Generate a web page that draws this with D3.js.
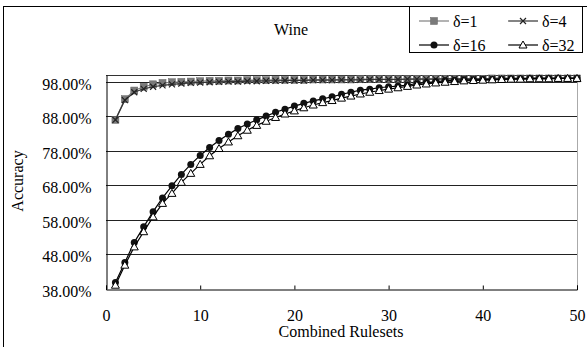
<!DOCTYPE html>
<html><head><meta charset="utf-8">
<script src="https://cdn.jsdelivr.net/npm/d3@7"></script>
<style>body{margin:0;background:#fff}</style>
</head><body><svg id="c" width="587" height="347"></svg>
<script>
const rulesets = d3.range(1, 51);
const seriesNames = ["δ=1", "δ=4", "δ=16", "δ=32"];
const delta1 = [0.870,0.930,0.955,0.966,0.973,0.977,0.979,0.980,0.981,0.982,
0.983,0.983,0.984,0.984,0.985,0.985,0.985,0.986,0.986,0.986,
0.986,0.987,0.987,0.987,0.987,0.987,0.988,0.988,0.988,0.988,
0.988,0.988,0.989,0.989,0.989,0.989,0.989,0.989,0.989,0.989,
0.990,0.990,0.990,0.990,0.990,0.990,0.990,0.990,0.990,0.990];
const delta4 = [0.870,0.927,0.950,0.960,0.966,0.970,0.973,0.975,0.977,0.978,
0.979,0.980,0.981,0.981,0.982,0.982,0.983,0.983,0.984,0.984,
0.984,0.985,0.985,0.985,0.986,0.986,0.986,0.987,0.987,0.987,
0.987,0.988,0.988,0.988,0.988,0.989,0.989,0.989,0.989,0.989,
0.990,0.990,0.990,0.990,0.990,0.991,0.991,0.991,0.991,0.991];
const delta16 = [0.399,0.457,0.515,0.560,0.604,0.644,0.679,0.712,0.741,0.767,
0.790,0.810,0.828,0.845,0.858,0.870,0.881,0.892,0.901,0.910,
0.918,0.925,0.931,0.937,0.944,0.950,0.956,0.959,0.963,0.966,
0.968,0.971,0.975,0.978,0.981,0.983,0.985,0.986,0.986,0.987,
0.987,0.988,0.989,0.989,0.990,0.990,0.990,0.990,0.990,0.990];
const delta32 = [0.391,0.449,0.502,0.546,0.589,0.628,0.657,0.689,0.715,0.741,
0.766,0.787,0.806,0.824,0.840,0.854,0.866,0.877,0.887,0.896,
0.905,0.913,0.920,0.926,0.933,0.939,0.945,0.950,0.955,0.959,
0.963,0.967,0.971,0.974,0.977,0.979,0.981,0.983,0.984,0.985,
0.986,0.987,0.988,0.988,0.989,0.989,0.989,0.990,0.990,0.990];
const yTicks = [0.38,0.48,0.58,0.68,0.78,0.88,0.98];
const xTicks = [0,10,20,30,40,50];

const svg = d3.select("#c");
const L = 106, R = 577, T = 75, B = 289;
const x = d3.scaleLinear().domain([0,50]).range([L,R]);
const y = d3.scaleLinear().domain([0.38,1.0]).range([B,T]);

function txt(sel){ return sel.attr("font-family","Liberation Serif").style("font-family","'Liberation Serif'").style("font-size","16px"); }

// outer frame
svg.append("rect").attr("x",3.5).attr("y",6.5).attr("width",600).attr("height",400)
  .attr("fill","none").attr("stroke","#000").attr("stroke-width",1);

// gridlines
svg.append("g").selectAll("line").data(yTicks.slice(1)).join("line")
  .attr("x1",L).attr("x2",R).attr("y1",d=>Math.round(y(d))+0.5).attr("y2",d=>Math.round(y(d))+0.5)
  .attr("stroke","#222").attr("stroke-width",1);

// plot frame
svg.append("line").attr("x1",L).attr("x2",R).attr("y1",T+0.5).attr("y2",T+0.5).attr("stroke","#333");
svg.append("line").attr("x1",R+0.5).attr("x2",R+0.5).attr("y1",T).attr("y2",B).attr("stroke","#aaa");

// axes
const yAxis = d3.axisLeft(y).tickValues(yTicks).tickSize(0).tickPadding(15)
  .tickFormat(d=>(d*100).toFixed(2)+"%");
const gy = svg.append("g").attr("transform",`translate(${L+0.5},0)`).call(yAxis);
gy.attr("font-family","Liberation Serif").attr("font-size",16);
gy.select(".domain").attr("stroke","#000");
txt(gy.selectAll("text")).attr("fill","#000").attr("dy","0.45em");

const xAxis = d3.axisBottom(x).tickValues(xTicks).tickSize(-4).tickPadding(20).tickFormat(d3.format("d"));
const gx = svg.append("g").attr("transform",`translate(0,${B+0.5})`).call(xAxis);
gx.attr("font-family","Liberation Serif").attr("font-size",16);
gx.select(".domain").attr("stroke","#000");
gx.selectAll(".tick line").attr("stroke","#000");
txt(gx.selectAll("text")).attr("fill","#000");

// titles
function label(xx,yy,t,rot){
  const e = txt(svg.append("text").attr("text-anchor","middle")).text(t);
  if(rot) e.attr("transform",`translate(${xx},${yy}) rotate(-90)`); else e.attr("x",xx).attr("y",yy);
  return e;
}
label(291,35,"Wine");
label(341,337,"Combined Rulesets");
label(23,181,"Accuracy",true);

// series
const series = [
  {name:seriesNames[0], values:delta1, color:"#808080", marker:"square"},
  {name:seriesNames[1], values:delta4, color:"#333", marker:"cross"},
  {name:seriesNames[2], values:delta16, color:"#000", marker:"circle"},
  {name:seriesNames[3], values:delta32, color:"#000", marker:"triangle"}
];
const line = d3.line().x((d,i)=>x(rulesets[i])).y(d=>y(d));

function drawMarker(g, type, cx, cy){
  if(type==="square"){
    g.append("rect").attr("x",cx-3.5).attr("y",cy-3.5).attr("width",7).attr("height",7)
      .attr("fill","#7a7a7a").attr("stroke","#666").attr("stroke-width",0.5);
  } else if(type==="cross"){
    g.append("path").attr("d",`M${cx-3},${cy-3}L${cx+3},${cy+3}M${cx-3},${cy+3}L${cx+3},${cy-3}`)
      .attr("stroke","#222").attr("stroke-width",1.2).attr("fill","none");
  } else if(type==="circle"){
    g.append("circle").attr("cx",cx).attr("cy",cy).attr("r",3.5).attr("fill","#111");
  } else {
    g.append("path").attr("d",`M${cx},${cy-4}L${cx+4},${cy+3}L${cx-4},${cy+3}Z`)
      .attr("fill","#fff").attr("stroke","#000").attr("stroke-width",1);
  }
}

series.forEach(s=>{
  const g = svg.append("g");
  g.append("path").attr("d",line(s.values)).attr("fill","none").attr("stroke",s.color).attr("stroke-width",1.2);
  s.values.forEach((v,i)=>drawMarker(g, s.marker, x(rulesets[i]), y(v)));
});

// legend
svg.append("rect").attr("x",409.5).attr("y",6.5).attr("width",173).attr("height",46)
  .attr("fill","#fff").attr("stroke","#000");
const legPos = [[419,21],[508,21],[419,45],[508,45]];
series.forEach((s,i)=>{
  const [lx,ly] = legPos[i];
  const g = svg.append("g");
  g.append("line").attr("x1",lx).attr("x2",lx+30).attr("y1",ly).attr("y2",ly).attr("stroke",s.color).attr("stroke-width",1.2);
  drawMarker(g, s.marker, lx+15, ly);
  txt(g.append("text").attr("x",lx+34).attr("y",ly+6)).text(s.name);
});
</script></body></html>
